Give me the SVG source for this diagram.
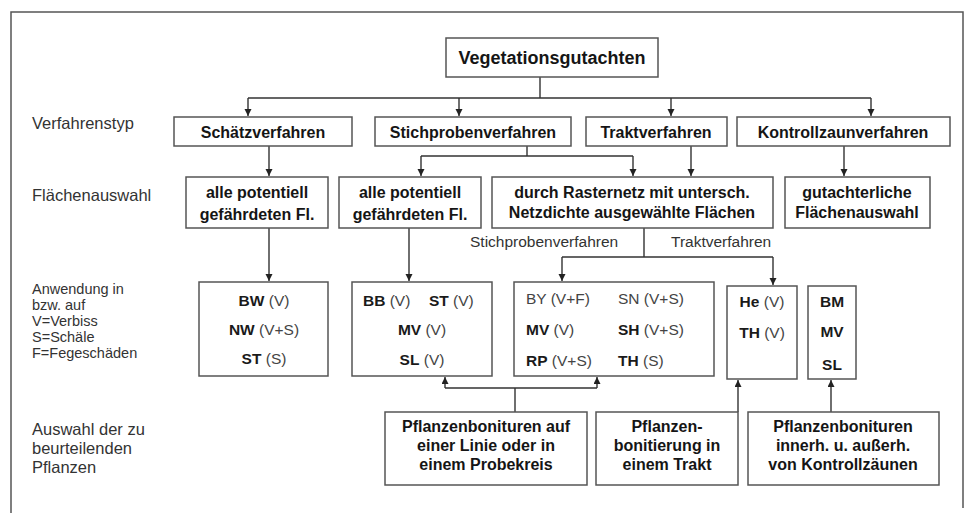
<svg xmlns="http://www.w3.org/2000/svg" width="971" height="513" viewBox="0 0 971 513">
<style>
.bx{fill:#fff;stroke:#555;stroke-width:1.5}
.t{font-family:"Liberation Sans",Arial,sans-serif;font-weight:bold;font-size:16px;fill:#151515;text-anchor:middle}
.h{font-size:18px}
.l{font-family:"Liberation Sans",Arial,sans-serif;font-size:16.5px;fill:#333}
.s{font-size:14.5px}
.u{font-size:15.5px}
.r{font-family:"Liberation Sans",Arial,sans-serif;font-size:15.5px;fill:#1a1a1a}
.b{font-weight:bold}
.n{font-weight:normal;fill:#444}
.c{text-anchor:middle}
.ln{fill:none;stroke:#333;stroke-width:1.4}
.ar{marker-end:url(#a)}
</style>
<defs>
<marker id="a" markerUnits="userSpaceOnUse" markerWidth="8" markerHeight="8" refX="7" refY="3.5" orient="auto">
<path d="M0,0 L7,3.5 L0,7 z" fill="#222"/>
</marker>
</defs>
<rect width="971" height="513" fill="#fff"/>
<path d="M11,513 V12 H963 V508" fill="none" stroke="#555" stroke-width="1.5"/>

<g id="labels">
<text class="l" x="32" y="129">Verfahrenstyp</text>
<text class="l" x="32" y="201">Flächenauswahl</text>
<text class="l s" x="32" y="294">Anwendung in</text>
<text class="l s" x="32" y="310">bzw. auf</text>
<text class="l s" x="32" y="326">V=Verbiss</text>
<text class="l s" x="32" y="342">S=Schäle</text>
<text class="l s" x="32" y="358">F=Fegeschäden</text>
<text class="l" x="32" y="435">Auswahl der zu</text>
<text class="l" x="32" y="454">beurteilenden</text>
<text class="l" x="32" y="473">Pflanzen</text>
<text class="l u" x="470" y="247">Stichprobenverfahren</text>
<text class="l u" x="671" y="247">Traktverfahren</text>
</g>

<g id="connectors">
<path class="ln" d="M540,77 V98 M248,98 H871 M527,146 V156 M421,156 H633 M644,228 V257 M562,257 H773 M515,412 V388 M445,388 H597"/>
<path class="ln ar" d="M248,98 V116"/>
<path class="ln ar" d="M459,98 V116"/>
<path class="ln ar" d="M671,98 V116"/>
<path class="ln ar" d="M871,98 V116"/>
<path class="ln ar" d="M269,146 V176"/>
<path class="ln ar" d="M421,156 V176"/>
<path class="ln ar" d="M633,156 V176"/>
<path class="ln ar" d="M691,146 V176"/>
<path class="ln ar" d="M844,146 V176"/>
<path class="ln ar" d="M269,228 V281"/>
<path class="ln ar" d="M409,228 V281"/>
<path class="ln ar" d="M562,257 V281"/>
<path class="ln ar" d="M773,257 V285"/>
<path class="ln ar" d="M445,388 V377"/>
<path class="ln ar" d="M597,388 V377"/>
<path class="ln ar" d="M738,412 V380"/>
<path class="ln ar" d="M831,412 V380"/>
</g>

<g id="n-root"><rect class="bx" x="446" y="38" width="212" height="39"/><text class="t h" x="552" y="64">Vegetationsgutachten</text></g>

<g id="n-schaetz"><rect class="bx" x="174" y="117" width="178" height="29"/><text class="t" x="263" y="138">Schätzverfahren</text></g>
<g id="n-stich"><rect class="bx" x="375" y="117" width="196" height="29"/><text class="t" x="473" y="138">Stichprobenverfahren</text></g>
<g id="n-trakt"><rect class="bx" x="586" y="117" width="141" height="29"/><text class="t" x="656" y="138">Traktverfahren</text></g>
<g id="n-kontroll"><rect class="bx" x="737" y="117" width="213" height="29"/><text class="t" x="843" y="138">Kontrollzaunverfahren</text></g>

<g id="n-fl1"><rect class="bx" x="186" y="177" width="142" height="51"/><text class="t" x="257" y="198">alle potentiell</text><text class="t" x="257" y="220">gefährdeten Fl.</text></g>
<g id="n-fl2"><rect class="bx" x="339" y="177" width="142" height="51"/><text class="t" x="410" y="198">alle potentiell</text><text class="t" x="410" y="220">gefährdeten Fl.</text></g>
<g id="n-fl3"><rect class="bx" x="492" y="177" width="281" height="51"/><text class="t" x="632" y="198">durch Rasternetz mit untersch.</text><text class="t" x="632" y="218">Netzdichte ausgewählte Flächen</text></g>
<g id="n-fl4"><rect class="bx" x="785" y="177" width="145" height="51"/><text class="t" x="857" y="198">gutachterliche</text><text class="t" x="857" y="218">Flächenauswahl</text></g>

<g id="n-a1"><rect class="bx" x="199" y="282" width="129" height="94"/>
<text class="r c" x="264" y="306"><tspan class="b">BW</tspan><tspan class="n"> (V)</tspan></text>
<text class="r c" x="264" y="335"><tspan class="b">NW</tspan><tspan class="n"> (V+S)</tspan></text>
<text class="r c" x="264" y="364"><tspan class="b">ST</tspan><tspan class="n"> (S)</tspan></text></g>
<g id="n-a2"><rect class="bx" x="352" y="282" width="140" height="94"/>
<text class="r" x="363" y="306"><tspan class="b">BB</tspan><tspan class="n"> (V)</tspan></text>
<text class="r" x="429" y="306"><tspan class="b">ST</tspan><tspan class="n"> (V)</tspan></text>
<text class="r c" x="422" y="335"><tspan class="b">MV</tspan><tspan class="n"> (V)</tspan></text>
<text class="r c" x="422" y="365"><tspan class="b">SL</tspan><tspan class="n"> (V)</tspan></text></g>
<g id="n-a3"><rect class="bx" x="514" y="282" width="200" height="94"/>
<text class="r" x="526" y="304"><tspan class="n">BY (V+F)</tspan></text>
<text class="r" x="618" y="304"><tspan class="n">SN (V+S)</tspan></text>
<text class="r" x="526" y="335"><tspan class="b">MV</tspan><tspan class="n"> (V)</tspan></text>
<text class="r" x="618" y="335"><tspan class="b">SH</tspan><tspan class="n"> (V+S)</tspan></text>
<text class="r" x="526" y="366"><tspan class="b">RP</tspan><tspan class="n"> (V+S)</tspan></text>
<text class="r" x="618" y="366"><tspan class="b">TH</tspan><tspan class="n"> (S)</tspan></text></g>
<g id="n-a4"><rect class="bx" x="727" y="286" width="70" height="93"/>
<text class="r c" x="762" y="307"><tspan class="b">He</tspan><tspan class="n"> (V)</tspan></text>
<text class="r c" x="762" y="338"><tspan class="b">TH</tspan><tspan class="n"> (V)</tspan></text></g>
<g id="n-a5"><rect class="bx" x="808" y="286" width="48" height="93"/>
<text class="r c b" x="832" y="307">BM</text>
<text class="r c b" x="832" y="337">MV</text>
<text class="r c b" x="832" y="370">SL</text></g>

<g id="n-p1"><rect class="bx" x="385" y="412" width="202" height="73"/><text class="t" x="486" y="432">Pflanzenbonituren auf</text><text class="t" x="486" y="451">einer Linie oder in</text><text class="t" x="486" y="470">einem Probekreis</text></g>
<g id="n-p2"><rect class="bx" x="596" y="412" width="142" height="73"/><text class="t" x="667" y="432">Pflanzen-</text><text class="t" x="667" y="451">bonitierung in</text><text class="t" x="667" y="470">einem Trakt</text></g>
<g id="n-p3"><rect class="bx" x="748" y="412" width="191" height="73"/><text class="t" x="843" y="432">Pflanzenbonituren</text><text class="t" x="843" y="451">innerh. u. außerh.</text><text class="t" x="843" y="470">von Kontrollzäunen</text></g>
</svg>
